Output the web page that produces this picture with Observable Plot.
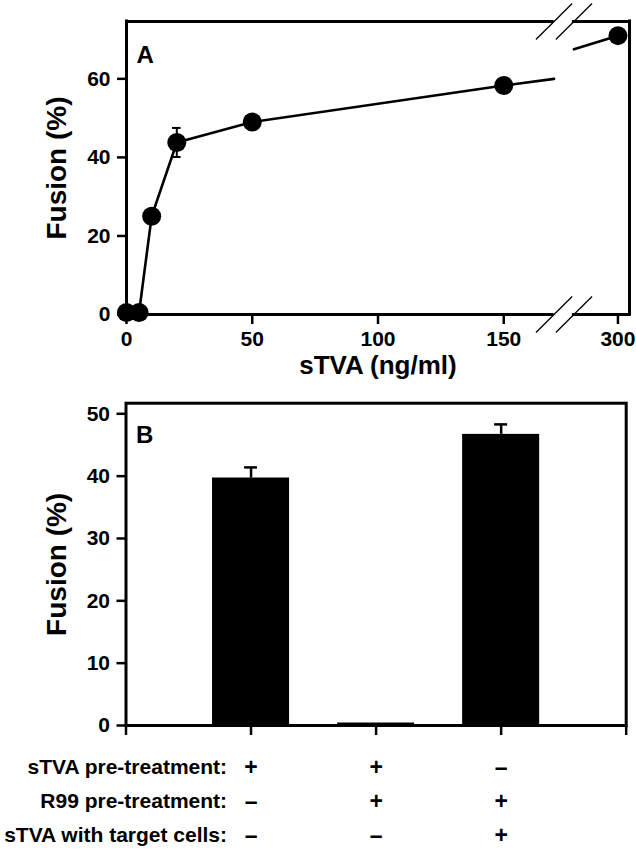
<!DOCTYPE html>
<html><head><meta charset="utf-8">
<script src="https://cdn.jsdelivr.net/npm/d3@7"></script>
<script src="https://cdn.jsdelivr.net/npm/@observablehq/plot@0.6"></script>
<style>
body{margin:0;background:#fff;}
#c{width:636px;}
svg{display:block;}
svg text{font-family:"Liberation Sans",Arial,sans-serif;font-weight:bold;}
</style></head><body><div id="c"></div>
<script>
// ---------- Panel A data ----------
const sTVA = [0, 5, 10, 20, 50, 150, 300];            // ng/ml
const fusionA = [0.5, 0.5, 25.0, 43.8, 49.0, 58.3, 71.0];
const errA = [0.3, 0.3, 1.5, 3.7, 1.2, 1.0, 1.5];
const xTicksA = [0, 50, 100, 150, 300];
const yTicksA = [0, 20, 40, 60];
const xLabelA = "sTVA (ng/ml)";
const yLabel = "Fusion (%)";

// ---------- Panel B data ----------
const fusionB = [39.7, 0.4, 46.7];
const errB = [1.7, 0, 1.6];
const yTicksB = [0, 10, 20, 30, 40, 50];
const rowLabels = ["sTVA pre-treatment:", "R99 pre-treatment:", "sTVA with target cells:"];
const treatSTVA = ["+", "+", "\u2013"];
const treatR99 = ["\u2013", "+", "+"];
const treatTarget = ["\u2013", "\u2013", "+"];
const treatments = [treatSTVA, treatR99, treatTarget];

// ---------- axis break for panel A ----------
const BRK_LO = 170, BRK_HI = 259, GAP = 7.9, RIGHT_K = 0.427;
const brk = x => x <= BRK_LO ? x : BRK_LO + GAP + (x - BRK_HI) * RIGHT_K;
const X_MAX = 200, Y_MAX_A = 74.6;

const ptsA = sTVA.map((x, i) => ({x, y: fusionA[i], e: errA[i]}));
const before = ptsA.filter(p => p.x <= BRK_LO);
const after = ptsA.filter(p => p.x >= BRK_HI);
const pL = before[before.length - 1], pR = after[0];
const interp = x => pL.y + (pR.y - pL.y) * (x - pL.x) / (pR.x - pL.x);
const lineA = [
  ...before.map(p => ({x: p.x, y: p.y, s: 0})),
  {x: BRK_LO, y: interp(BRK_LO), s: 0},
  {x: BRK_HI, y: interp(BRK_HI), s: 1},
  ...after.map(p => ({x: p.x, y: p.y, s: 1}))
];
const tickLab = new Map(xTicksA.map(t => [brk(t), String(t)]));
const slashes = [];
for (const bx of [BRK_LO, BRK_LO + GAP]) for (const by of [0, Y_MAX_A]) slashes.push({bx, by});

const FS = 21;
const H_A = 384;
const plotA = Plot.plot({
  width: 636, height: H_A,
  marginLeft: 126, marginRight: 7, marginTop: 21, marginBottom: H_A - 314,
  style: {fontSize: FS + "px", fontFamily: "Liberation Sans, Arial, sans-serif", fontWeight: "bold", background: "white"},
  x: {domain: [0, X_MAX]},
  y: {domain: [0, Y_MAX_A]},
  marks: [
    Plot.ruleX([0], {strokeWidth: 3, strokeLinecap: "square"}),
    Plot.ruleX([X_MAX], {strokeWidth: 3, strokeLinecap: "square"}),
    Plot.ruleY([0, Y_MAX_A], {x1: 0, x2: BRK_LO, strokeWidth: 3}),
    Plot.ruleY([0, Y_MAX_A], {x1: BRK_LO + GAP, x2: X_MAX, strokeWidth: 3, strokeLinecap: "square"}),
    Plot.link(slashes, {x1: d => d.bx - 7.2, x2: d => d.bx + 7.2, y1: d => d.by - 4.6, y2: d => d.by + 4.6, stroke: "black", strokeWidth: 1.3}),
    Plot.axisY({ticks: yTicksA, tickSize: 9, tickPadding: 7, strokeWidth: 2.5, label: null, fontSize: FS}),
    Plot.axisX({ticks: xTicksA.map(brk), tickFormat: d => tickLab.get(d), tickSize: 10, tickPadding: 7, strokeWidth: 2.5, label: null, fontSize: FS}),
    Plot.line(lineA, {x: d => brk(d.x), y: "y", z: "s", stroke: "black", strokeWidth: 2.6}),
    Plot.ruleX(ptsA, {x: d => brk(d.x), y1: d => d.y - d.e, y2: d => d.y + d.e, strokeWidth: 2}),
    Plot.ruleY(ptsA, {y: d => d.y + d.e, x1: d => brk(d.x) - 1.7, x2: d => brk(d.x) + 1.7, strokeWidth: 2}),
    Plot.ruleY(ptsA, {y: d => d.y - d.e, x1: d => brk(d.x) - 1.7, x2: d => brk(d.x) + 1.7, strokeWidth: 2}),
    Plot.dot(ptsA, {x: d => brk(d.x), y: "y", r: 9.5, fill: "black"}),
    Plot.text([xLabelA], {frameAnchor: "bottom", dy: 51, fontSize: 26, fontWeight: "bold", lineAnchor: "middle"}),
    Plot.text([yLabel], {frameAnchor: "left", dx: -69, rotate: -90, fontSize: 28, fontWeight: "bold", lineAnchor: "middle", textAnchor: "middle"}),
    Plot.text(["A"], {frameAnchor: "top-left", dx: 10, dy: 33.5, textAnchor: "start", lineAnchor: "middle", fontSize: 24, fontWeight: "bold"})
  ]
});

// ---------- Panel B ----------
const ptsB = fusionB.map((v, i) => ({i: i + 1, v, e: errB[i]}));
const errPts = ptsB.filter(d => d.e > 0);
const HALF = 0.308;
const rowMarks = [];
rowLabels.forEach((lab, k) => {
  const dy = 42 + k * 34;
  rowMarks.push(Plot.text([lab], {x: 1, frameAnchor: "bottom", dx: -24, dy, textAnchor: "end", lineAnchor: "middle", fontSize: 21, fontWeight: "bold"}));
  rowMarks.push(Plot.text(treatments[k], {x: (d, i) => i + 1, frameAnchor: "bottom", dy, lineAnchor: "middle", fontSize: 23, fontWeight: "bold"}));
});

const H_B = 852 - H_A;
const plotB = Plot.plot({
  width: 636, height: H_B,
  marginLeft: 125.5, marginRight: 10.3, marginTop: 402.7 - H_A, marginBottom: H_B - (725 - H_A),
  style: {fontSize: FS + "px", fontFamily: "Liberation Sans, Arial, sans-serif", fontWeight: "bold", background: "white"},
  x: {domain: [0, 4]},
  y: {domain: [0, 51.7]},
  marks: [
    Plot.rectY(ptsB, {x1: d => d.i - HALF, x2: d => d.i + HALF, y1: 0, y2: "v", fill: "black"}),
    Plot.ruleX(errPts, {x: "i", y1: "v", y2: d => d.v + d.e, strokeWidth: 2.5}),
    Plot.ruleY(errPts, {y: d => d.v + d.e, x1: d => d.i - 0.052, x2: d => d.i + 0.052, strokeWidth: 2.5}),
    Plot.frame({stroke: "black", strokeWidth: 3}),
    Plot.axisY({ticks: yTicksB, tickSize: 9, tickPadding: 7, strokeWidth: 2.5, label: null, fontSize: FS}),
    Plot.axisX({ticks: [0, 1, 2, 3, 4], tickFormat: () => "", tickSize: 10, strokeWidth: 2.5, label: null}),
    Plot.text([yLabel], {frameAnchor: "left", dx: -69, rotate: -90, fontSize: 28, fontWeight: "bold", lineAnchor: "middle", textAnchor: "middle"}),
    Plot.text(["B"], {frameAnchor: "top-left", dx: 10, dy: 32, textAnchor: "start", lineAnchor: "middle", fontSize: 24, fontWeight: "bold"}),
    ...rowMarks
  ]
});

document.getElementById("c").append(plotA, plotB);
</script></body></html>
